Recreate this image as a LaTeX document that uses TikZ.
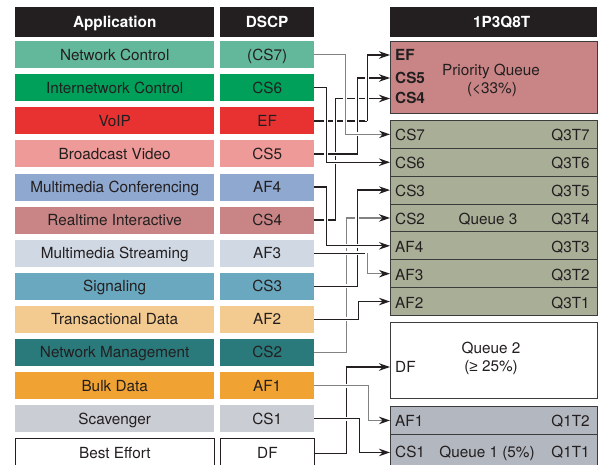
\documentclass[tikz,border=0pt]{standalone}
\usepackage{fontspec}
\setmainfont{TeX Gyre Heros}
\newfontfamily\symfont{Liberation Sans}
\usetikzlibrary{arrows.meta}
\definecolor{ink}{HTML}{231F20}
\definecolor{cNC}{HTML}{63B89B}
\definecolor{cIC}{HTML}{00A05A}
\definecolor{cVO}{HTML}{E83232}
\definecolor{cBV}{HTML}{EE9A98}
\definecolor{cMC}{HTML}{8FA8CF}
\definecolor{cRT}{HTML}{C98585}
\definecolor{cMS}{HTML}{CFD8E3}
\definecolor{cSG}{HTML}{6AA8BF}
\definecolor{cTD}{HTML}{F3CB90}
\definecolor{cNM}{HTML}{2A7A7C}
\definecolor{cBD}{HTML}{F0A332}
\definecolor{cSC}{HTML}{CBCDD4}
\definecolor{cQ3}{HTML}{A9AE97}
\definecolor{cQ1}{HTML}{B3B7C0}
\definecolor{qline}{HTML}{3C3C3C}
\definecolor{wgray}{HTML}{828282}
\begin{document}
\begin{tikzpicture}[x=1pt,y=-1pt,
  font=\fontsize{15.3}{18.5}\selectfont,
  cell/.style={anchor=north west, inner sep=0pt, minimum height=27pt, text=ink, text height=11pt, text depth=0pt},
  appcell/.style={cell, minimum width=199pt},
  codecell/.style={cell, minimum width=94pt},
  hdr/.style={anchor=north west, inner sep=0pt, minimum height=30pt, fill=ink, text=white, text height=11pt, text depth=0pt, font=\fontsize{15.3}{18.5}\selectfont\bfseries},
  qbox/.style={anchor=north west, inner sep=0pt, minimum width=207pt, draw=qline, line width=0.9pt},
  lbl/.style={inner sep=0pt, text=ink, text height=11pt, text depth=0pt},
  blbl/.style={lbl, font=\fontsize{15.3}{18.5}\selectfont\bfseries},
  conn/.style={line width=1.3pt, draw=ink, -{Stealth[length=11pt,width=7.5pt,color=ink]}, preaction={draw=white, line width=4pt, -, shorten >=8pt}},
  connplain/.style={line width=1.3pt, draw=ink, preaction={draw=white, line width=4pt}},
  grayconn/.style={conn, draw=wgray},
]
\useasboundingbox (0,0) rectangle (600,465);
% headers
\node[hdr, minimum width=199pt] (happ) at (15,7) {Application};
\node[hdr, minimum width=94pt] (hdscp) at (220,7) {DSCP};
\node[hdr, minimum width=207pt] (hq) at (390,7) {\hspace*{16pt}1P3Q8T};
% application rows
\foreach \i/\app/\code/\col in {0/Network Control/{(CS7)}/cNC, 1/Internetwork Control/CS6/cIC, 2/VoIP/EF/cVO, 3/Broadcast Video/CS5/cBV, 4/Multimedia Conferencing/AF4/cMC, 5/Realtime Interactive/CS4/cRT, 6/Multimedia Streaming/AF3/cMS, 7/Signaling/CS3/cSG, 8/Transactional Data/AF2/cTD, 9/Network Management/CS2/cNM, 10/Bulk Data/AF1/cBD, 11/Scavenger/CS1/cSC}{
  \node[appcell, fill=\col] (app\i) at (15,{41+33.08*\i}) {\app};
  \node[codecell, fill=\col] (dscp\i) at (220,{41+33.08*\i}) {\code};
}
\node[appcell, fill=white, draw=ink, line width=0.8pt, minimum height=30pt] (app12) at (15,438) {Best Effort};
\node[codecell, fill=white, draw=ink, line width=0.8pt, minimum height=30pt] (dscp12) at (220,438) {DF};
% priority queue
\node[qbox, fill=cRT, minimum height=72pt] (pq) at (390,41) {};
\node[blbl, anchor=west] (pqEF) at (395,55) {EF};
\node[blbl, anchor=west] (pqCS5) at (395,78) {CS5};
\node[blbl, anchor=west] (pqCS4) at (395,98.5) {CS4};
\node[lbl] (pqt1) at (491,70.5) {Priority Queue};
\node[lbl] (pqt2) at (492,88.5) {(<33\%)};
% queue 3
\foreach \j/\l/\r in {0/CS7/Q3T7, 1/CS6/Q3T6, 2/CS3/Q3T5, 3/CS2/Q3T4, 4/AF4/Q3T3, 5/AF3/Q3T2, 6/AF2/Q3T1}{
  \node[qbox, fill=cQ3, minimum height=27.86pt] (q3r\j) at (390,{120+27.86*\j}) {};
  \node[lbl, anchor=west] (q3l\j) at ([xshift=5pt,yshift=-1pt]q3r\j.west) {\l};
  \node[lbl, anchor=east] (q3t\j) at ([xshift=-8pt,yshift=-1pt]q3r\j.east) {\r};
}
\node[lbl] (q3name) at ([xshift=-6pt,yshift=-1pt]q3r3.center) {Queue 3};
% queue 2
\node[qbox, fill=white, minimum height=76pt] (q2) at (390,322) {};
\node[lbl] (q2t1) at (491,348) {Queue 2};
\node[lbl] (q2t2) at (491,366) {({\symfont ≥} 25\%)};
\node[lbl, anchor=west] (q2DF) at (395,367) {DF};
% queue 1
\node[qbox, fill=cQ1, minimum height=28pt] (q1a) at (390,406) {};
\node[qbox, fill=cQ1, minimum height=36pt] (q1b) at (390,434) {};
\node[lbl, anchor=west] (q1al) at ([xshift=5pt,yshift=-1pt]q1a.west) {AF1};
\node[lbl, anchor=east] (q1ar) at ([xshift=-8pt,yshift=-1pt]q1a.east) {Q1T2};
\node[lbl, anchor=west] (q1bl) at ([xshift=5pt]q1b.west) {CS1};
\node[lbl, anchor=east] (q1br) at ([xshift=-8pt]q1b.east) {Q1T1};
\node[lbl] (q1name) at (487,452) {Queue 1 (5\%)};
% connectors (upper group)
\draw[connplain] (dscp2.east) -- ++(53,0) coordinate (kEF);
\draw[conn] (dscp5.east) -- ++(21,0) |- (pqCS4.west -| pq.west);
\draw[conn] (dscp3.east) -- ++(43,0) |- (pqCS5.west -| pq.west);
\draw[conn] (dscp1.east) -- ++(12,0) |- (q3r1.west);
\draw[grayconn] (dscp0.east) -- ++(31,0) |- (q3r0.west);
\draw[conn] (kEF) |- (pqEF.west -| pq.west);
% connectors (middle group)
\draw[grayconn] (dscp9.east) -- ++(32,0) |- (q3r3.west);
\draw[conn] (dscp7.east) -- ++(43,0) |- (q3r2.west);
\draw[conn] (dscp4.east) -- ++(12,0) |- (q3r4.west);
\draw[connplain] (dscp6.east) -- ++(53,0) coordinate (kAF3);
\draw[grayconn] (kAF3) |- (q3r5.west);
\draw[conn] (dscp8.east) -- ++(44,0) |- (q3r6.west);
% connectors (lower group)
\draw[conn] (dscp12.east) -- ++(32,0) |- (q2DF.west -| q2.west);
\draw[grayconn] (dscp10.east) -- ++(54,0) |- (q1a.west);
\draw[conn] (dscp11.east) -- ++(45,0) |- (q1b.west);
\end{tikzpicture}
\end{document}
